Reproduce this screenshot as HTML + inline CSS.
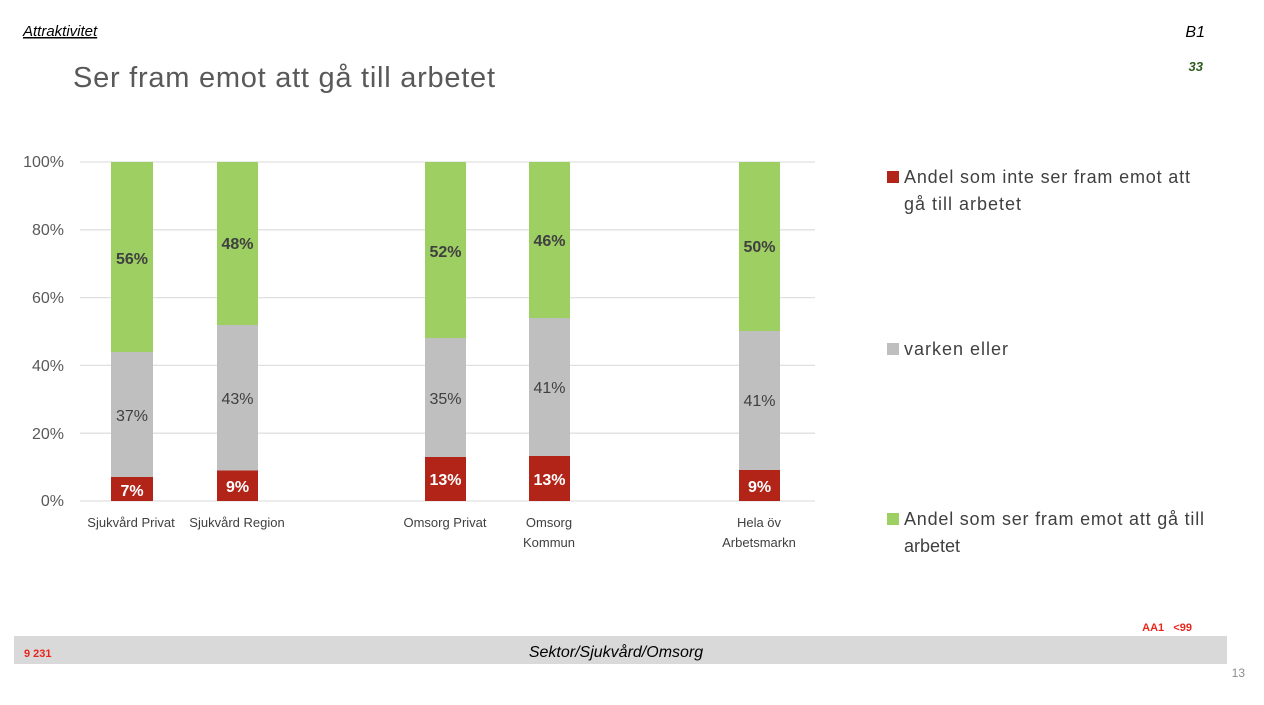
<!DOCTYPE html>
<html><head><meta charset="utf-8"><style>
body{margin:0;background:#fff;}
svg text{font-family:"Liberation Sans",sans-serif;}
</style></head><body>
<svg width="1264" height="700" xmlns="http://www.w3.org/2000/svg">
<text x="23" y="36" font-size="15" font-style="italic" fill="#000" text-decoration="underline">Attraktivitet</text>
<text x="1205" y="37" font-size="16" font-style="italic" fill="#000" text-anchor="end">B1</text>
<text x="1203" y="71" font-size="13" font-style="italic" font-weight="bold" fill="#2f5a1e" text-anchor="end">33</text>
<text x="73" y="87" font-size="29" fill="#595959" textLength="422" lengthAdjust="spacing">Ser fram emot att gå till arbetet</text>
<g stroke="#e0e0e0" stroke-width="1.3">
<line x1="80" y1="162" x2="815" y2="162"/><line x1="80" y1="229.8" x2="815" y2="229.8"/>
<line x1="80" y1="297.6" x2="815" y2="297.6"/><line x1="80" y1="365.4" x2="815" y2="365.4"/>
<line x1="80" y1="433.2" x2="815" y2="433.2"/><line x1="80" y1="501" x2="815" y2="501"/>
</g>
<g font-size="16" fill="#595959" text-anchor="end">
<text x="64" y="167">100%</text><text x="64" y="235">80%</text><text x="64" y="303">60%</text>
<text x="64" y="371">40%</text><text x="64" y="439">20%</text><text x="64" y="506">0%</text>
</g>
<g>
<rect x="111" y="162" width="42" height="190" fill="#9ecf63"/><rect x="111" y="352" width="42" height="125" fill="#bfbfbf"/><rect x="111" y="477" width="42" height="24" fill="#b22418"/>
<rect x="217" y="162" width="41" height="163" fill="#9ecf63"/><rect x="217" y="325" width="41" height="145.5" fill="#bfbfbf"/><rect x="217" y="470.5" width="41" height="30.5" fill="#b22418"/>
<rect x="425" y="162" width="41" height="176" fill="#9ecf63"/><rect x="425" y="338" width="41" height="119" fill="#bfbfbf"/><rect x="425" y="457" width="41" height="44" fill="#b22418"/>
<rect x="529" y="162" width="41" height="156" fill="#9ecf63"/><rect x="529" y="318" width="41" height="138" fill="#bfbfbf"/><rect x="529" y="456" width="41" height="45" fill="#b22418"/>
<rect x="739" y="162" width="41" height="169" fill="#9ecf63"/><rect x="739" y="331" width="41" height="139" fill="#bfbfbf"/><rect x="739" y="470" width="41" height="31" fill="#b22418"/>
</g>
<g font-size="16" font-weight="bold" fill="#404040" text-anchor="middle">
<text x="132" y="264">56%</text><text x="237.5" y="249">48%</text><text x="445.5" y="257">52%</text><text x="549.5" y="246">46%</text><text x="759.5" y="252">50%</text>
</g>
<g font-size="16" fill="#404040" text-anchor="middle">
<text x="132" y="421">37%</text><text x="237.5" y="404">43%</text><text x="445.5" y="404">35%</text><text x="549.5" y="393">41%</text><text x="759.5" y="406">41%</text>
</g>
<g font-size="16" font-weight="bold" fill="#fff" text-anchor="middle">
<text x="132" y="496">7%</text><text x="237.5" y="492">9%</text><text x="445.5" y="485">13%</text><text x="549.5" y="485">13%</text><text x="759.5" y="492">9%</text>
</g>
<g font-size="13" fill="#404040" text-anchor="middle">
<text x="131" y="527">Sjukvård Privat</text><text x="237" y="527">Sjukvård Region</text>
<text x="445" y="527">Omsorg Privat</text>
<text x="549" y="527">Omsorg</text><text x="549" y="547">Kommun</text>
<text x="759" y="527">Hela öv</text><text x="759" y="547">Arbetsmarkn</text>
</g>
<g font-size="18" fill="#404040">
<rect x="887" y="171" width="12" height="12" fill="#b22418"/>
<text x="904" y="183" textLength="286" lengthAdjust="spacing">Andel som inte ser fram emot att</text><text x="904" y="210" textLength="117" lengthAdjust="spacing">gå till arbetet</text>
<rect x="887" y="343" width="12" height="12" fill="#bfbfbf"/>
<text x="904" y="355" textLength="104" lengthAdjust="spacing">varken eller</text>
<rect x="887" y="513" width="12" height="12" fill="#9ecf63"/>
<text x="904" y="525" textLength="300" lengthAdjust="spacing">Andel som ser fram emot att gå till</text><text x="904" y="552">arbetet</text>
</g>
<text x="1192" y="631" font-size="11" font-weight="bold" fill="#e8261c" text-anchor="end">AA1 &#160; &lt;99</text>
<rect x="14" y="636" width="1213" height="28" fill="#d9d9d9"/>
<text x="24" y="657" font-size="11" font-weight="bold" fill="#e8261c">9 231</text>
<text x="616" y="657" font-size="16" font-style="italic" fill="#000" text-anchor="middle">Sektor/Sjukvård/Omsorg</text>
<text x="1245" y="677" font-size="12" fill="#8c8c8c" text-anchor="end">13</text>
</svg>
</body></html>
